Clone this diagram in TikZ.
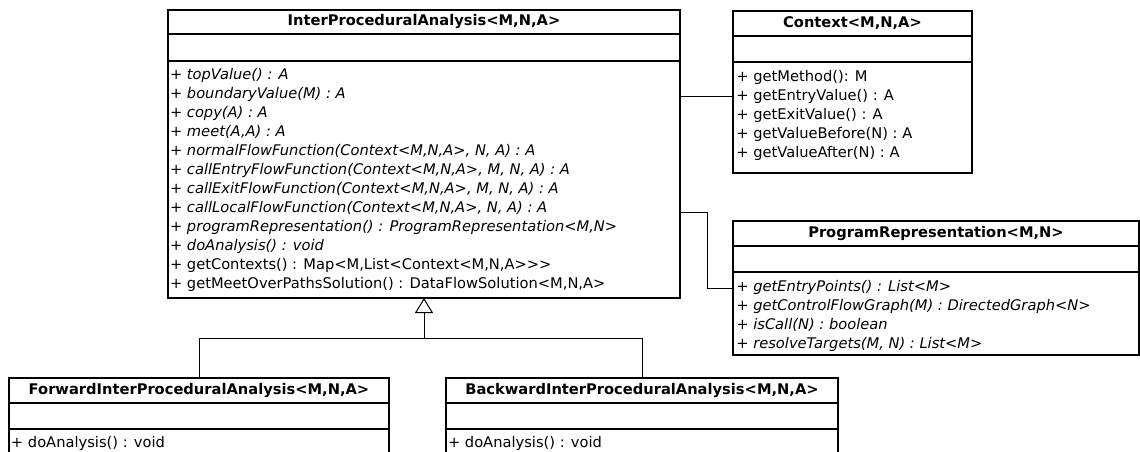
\documentclass[tikz,border=0pt]{standalone}
\usepackage{fontspec}
\setmainfont{DejaVu Sans}
\usetikzlibrary{positioning,arrows.meta}
\newcommand{\abst}[1]{+ \textit{#1}}
\newcommand{\conc}[1]{+ #1}

\begin{document}
\begin{tikzpicture}[x=0.75pt, y=-0.75pt,
    part/.style 2 args={draw, line width=1.5pt, inner sep=0pt, outer sep=0pt,
      minimum width=#1*0.75pt, minimum height=#2*0.75pt},
    head/.style={font=\fontsize{11}{14.25}\selectfont\bfseries},
    list/.style={anchor=north west, align=left, inner sep=0pt, outer sep=0pt,
      font=\fontsize{11}{14.25}\selectfont},
    link/.style={line width=0.75pt},
    inherit/.style={link, -{Triangle[open, length=11.25pt, width=13.5pt]}}]
  \useasboundingbox (0,0) rectangle (1140,451);
  \node[part={512}{24}, head] (ipa) at (424,22) {InterProceduralAnalysis<M,N,A>};
  \node[part={512}{27}, below=0pt of ipa] (ipaAttr) {};
  \node[part={512}{237}, below=0pt of ipaAttr] (ipaOps) {};
  \node[list, below right=4pt and 1.5pt of ipaOps.north west] (ipaList) {%
    \strut\abst{topValue() : A}\\
    \strut\abst{boundaryValue(M) : A}\\
    \strut\abst{copy(A) : A}\\
    \strut\abst{meet(A,A) : A}\\
    \strut\abst{normalFlowFunction(Context<M,N,A>, N, A) : A}\\
    \strut\abst{callEntryFlowFunction(Context<M,N,A>, M, N, A) : A}\\
    \strut\abst{callExitFlowFunction(Context<M,N,A>, M, N, A) : A}\\
    \strut\abst{callLocalFlowFunction(Context<M,N,A>, N, A) : A}\\
    \strut\abst{programRepresentation() : ProgramRepresentation<M,N>}\\
    \strut\abst{doAnalysis() : void}\\
    \strut\conc{getContexts() : Map<M,List<Context<M,N,A>{}>{}>}\\
    \strut\conc{getMeetOverPathsSolution() : DataFlowSolution<M,N,A>}};
  \node[part={239}{25}, head] (ctx) at (852.5,23.5) {Context<M,N,A>};
  \node[part={239}{26}, below=0pt of ctx] (ctxAttr) {};
  \node[part={239}{111}, below=0pt of ctxAttr] (ctxOps) {};
  \node[list, below right=4.5pt and 2.5pt of ctxOps.north west] (ctxList) {%
    \strut\conc{getMethod(): M}\\
    \strut\conc{getEntryValue() : A}\\
    \strut\conc{getExitValue() : A}\\
    \strut\conc{getValueBefore(N) : A}\\
    \strut\conc{getValueAfter(N) : A}};
  \node[part={406}{25}, head] (prog) at (936,233.5) {ProgramRepresentation<M,N>};
  \node[part={406}{26}, below=0pt of prog] (progAttr) {};
  \node[part={406}{83}, below=0pt of progAttr] (progOps) {};
  \node[list, below right=4.5pt and 2.5pt of progOps.north west] (progList) {%
    \strut\abst{getEntryPoints() : List<M>}\\
    \strut\abst{getControlFlowGraph(M) : DirectedGraph<N>}\\
    \strut\abst{isCall(N) : boolean}\\
    \strut\abst{resolveTargets(M, N) : List<M>}};
  \node[part={380}{25}, head] (fwd) at (199,390.5) {ForwardInterProceduralAnalysis<M,N,A>};
  \node[part={380}{26}, below=0pt of fwd] (fwdAttr) {};
  \node[part={380}{46}, below=0pt of fwdAttr] (fwdOps) {};
  \node[list, below right=4pt and 1.5pt of fwdOps.north west] (fwdList) {%
    \strut\conc{doAnalysis() : void}};
  \node[part={392}{25}, head] (bwd) at (642,390.5) {BackwardInterProceduralAnalysis<M,N,A>};
  \node[part={392}{26}, below=0pt of bwd] (bwdAttr) {};
  \node[part={392}{46}, below=0pt of bwdAttr] (bwdOps) {};
  \node[list, below right=4pt and 1.5pt of bwdOps.north west] (bwdList) {%
    \strut\conc{doAnalysis() : void}};
  \draw[link] (ipaOps.east |- 0,96) -- (ctxOps.west |- 0,96);
  \draw[link] (ipaOps.east |- 0,212) -- (707,212) |- (progOps.west |- 0,288);
  \draw[inherit] (fwd.north) |- (ipaOps.south |- 0,338) -- (ipaOps.south);
  \draw[link] (bwd.north) |- (ipaOps.south |- 0,338);
\end{tikzpicture}
\end{document}
